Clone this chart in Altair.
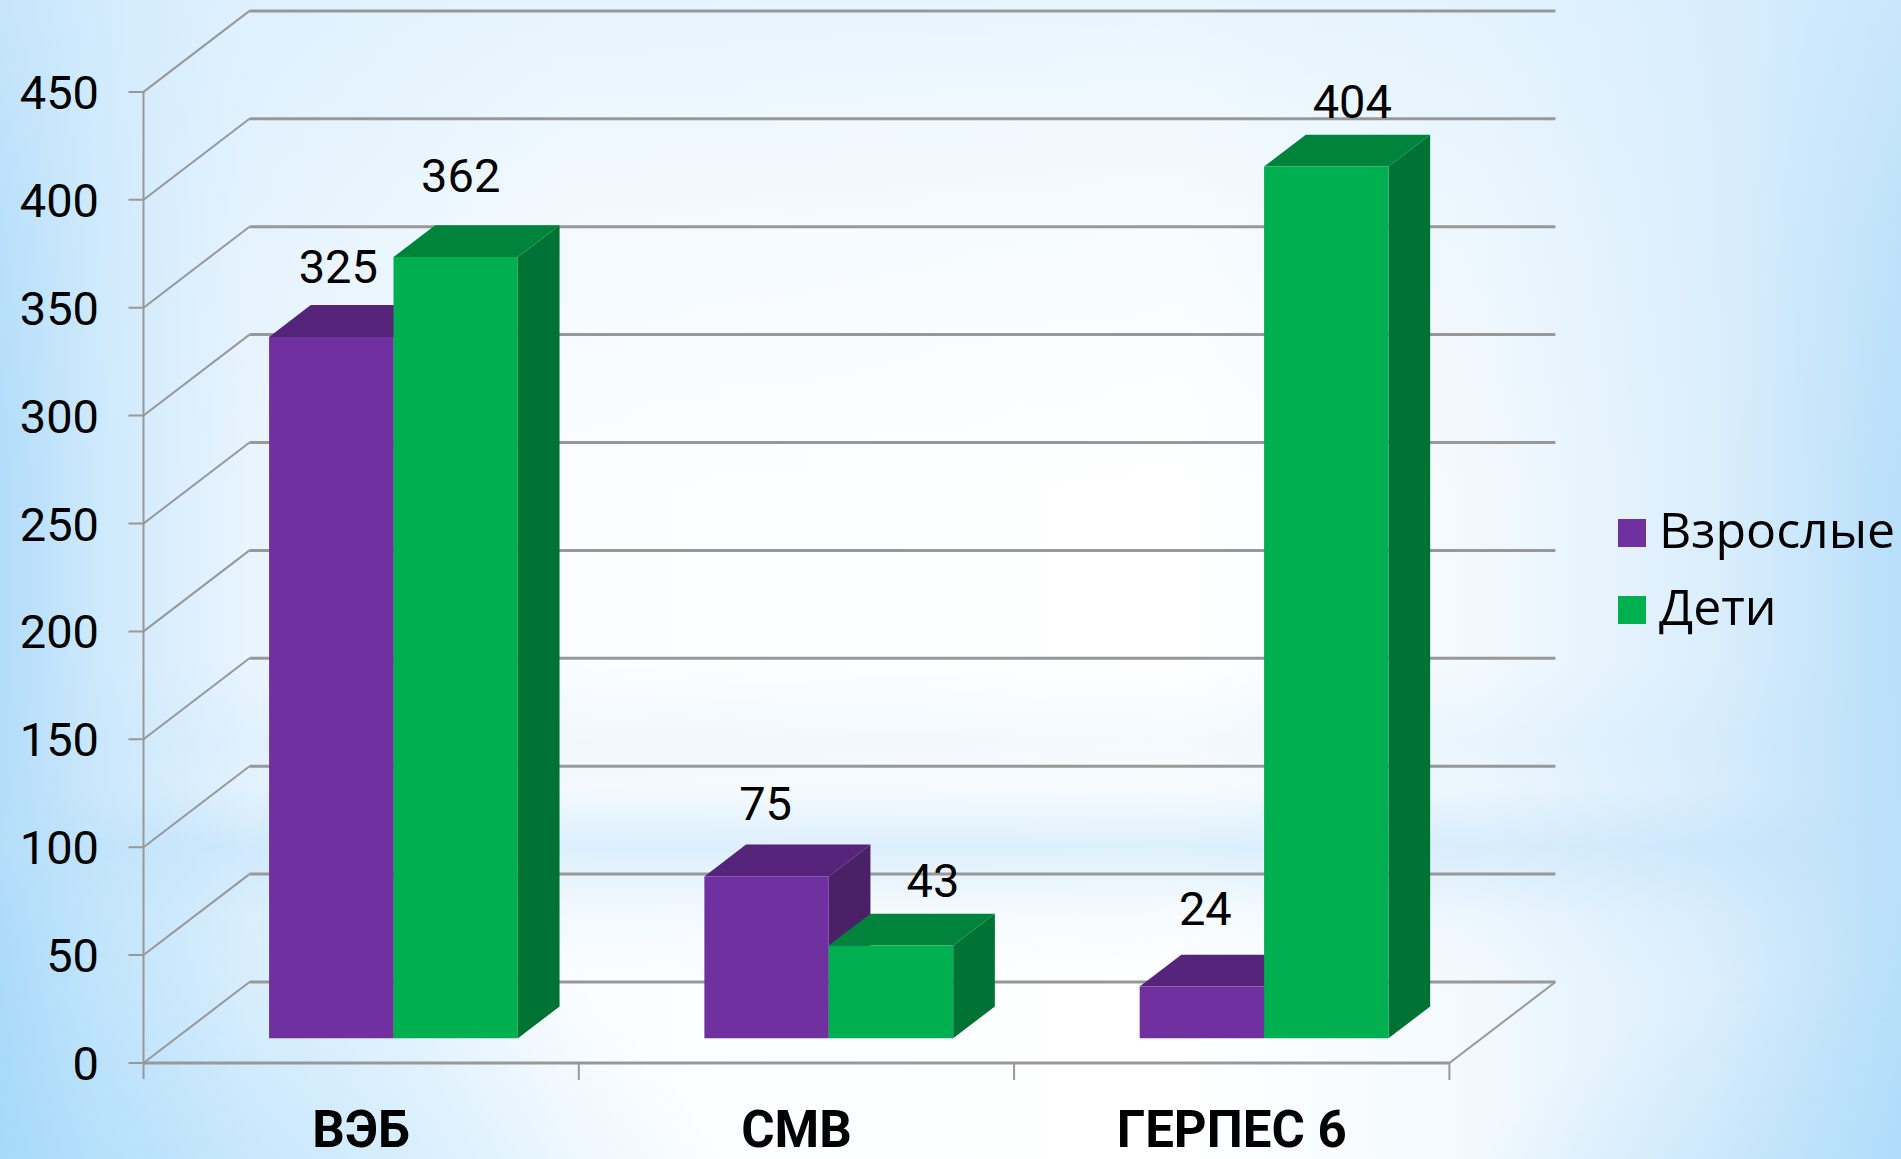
import altair as alt
import pandas as pd

# Values shown on the chart
categories = ["ВЭБ", "СМВ", "ГЕРПЕС 6"]
series_names = ["Взрослые", "Дети"]
adults = [325, 75, 24]
children = [362, 43, 404]
value_ticks = [0, 50, 100, 150, 200, 250, 300, 350, 400, 450]

# Faces of each bar: front, top, side
face_colors = {
    "Взрослые": ("#7030A0", "#55247A", "#4A2067"),
    "Дети": ("#00B050", "#00843C", "#007233"),
}
GRID = "#989898"
NUM_FONT = "Roboto"
LEGEND_FONT = "Open Sans"

WIDTH, HEIGHT = 1901, 1159
X0_PX, CAT_PX = 143.5, 435.3
Y0_PX, UNIT_PX = 1063.0, 2.158

x_scale = alt.Scale(domain=[-X0_PX / CAT_PX, (WIDTH - X0_PX) / CAT_PX], range=[0, WIDTH], nice=False, zero=False)
y_scale = alt.Scale(domain=[(Y0_PX - HEIGHT) / UNIT_PX, Y0_PX / UNIT_PX], range=[HEIGHT, 0], nice=False, zero=False)

# Oblique projection of the 3D box: full floor depth in axis units
FLOOR_DX = 106 / CAT_PX
FLOOR_DY = 81 / UNIT_PX
# Bars sit between these fractions of the floor depth
BAR_NEAR, BAR_FAR = 0.305, 0.698
BAR_WIDTH = 0.2858


def X(u, depth=0.0):
    return u + depth * FLOOR_DX


def Y(v, depth=0.0):
    return v + depth * FLOOR_DY


def qx(field):
    return alt.X(field, type="quantitative", scale=x_scale, axis=None)


def qy(field):
    return alt.Y(field, type="quantitative", scale=y_scale, axis=None, stack=None)


def full_rect(fill):
    return alt.Chart(alt.Data(values=[{}])).mark_rect(fill=fill).encode(
        x=alt.value(0), x2=alt.value(WIDTH), y=alt.value(0), y2=alt.value(HEIGHT)
    )


def linear(stops, horizontal=True):
    return alt.LinearGradient(
        gradient="linear",
        stops=[alt.GradientStop(color=c, offset=o) for o, c in stops],
        x1=0, y1=0, x2=1 if horizontal else 0, y2=0 if horizontal else 1,
    )


def corner_glow(cx, cy, radius, alpha):
    return full_rect(alt.RadialGradient(
        gradient="radial",
        stops=[alt.GradientStop(color=f"rgba(150,212,250,{alpha})", offset=0),
               alt.GradientStop(color="rgba(150,212,250,0)", offset=1)],
        x1=cx, y1=cy, x2=cx, y2=cy, r1=0, r2=radius,
    ))


background = [
    # side-to-side wash, deep blue at the edges and white in the middle
    full_rect(linear([
        (0, "#B2DCFA"), (0.05, "#CDE9FC"), (0.13, "#E8F4FE"), (0.3, "#FBFDFF"),
        (0.62, "#FFFFFF"), (0.78, "#F2F9FE"), (0.9, "#DBEEFC"), (1, "#B8DFFA"),
    ])),
    # pale sky across the top and the soft band low on the slide
    full_rect(linear([
        (0, "rgba(214,237,253,0.55)"), (0.2, "rgba(214,237,253,0.2)"), (0.42, "rgba(214,237,253,0)"),
        (0.57, "rgba(190,225,250,0)"), (0.64, "rgba(190,225,250,0.18)"), (0.68, "rgba(190,225,250,0.12)"),
        (0.73, "rgba(190,225,250,0.5)"), (0.79, "rgba(190,225,250,0.12)"), (0.85, "rgba(190,225,250,0)"),
        (1, "rgba(190,225,250,0)"),
    ], horizontal=False)),
    corner_glow(0.03, 1.0, 0.4, 0.85),
    corner_glow(1.0, 1.0, 0.3, 0.75),
]

# Wall lines at full weight, oblique edges and tick marks lighter
wall_rows, edge_rows = [], []


def add_path(rows, name, pts):
    for i, (px, py) in enumerate(pts):
        rows.append({"x": px, "y": py, "line": name, "i": i})


for v in value_ticks:
    add_path(wall_rows, f"wall{v}", [(X(0, 1), Y(v, 1)), (X(3, 1), Y(v, 1))])
    add_path(edge_rows, f"edge{v}", [(X(-15 / CAT_PX), Y(v)), (X(0), Y(v)), (X(0, 1), Y(v, 1))])
add_path(edge_rows, "floor_right", [(X(3, 1), Y(0, 1)), (X(3), Y(0))])
add_path(wall_rows, "floor_front", [(X(3), Y(0)), (X(0), Y(0))])
add_path(edge_rows, "axis", [(X(0), Y(450)), (X(0), Y(-16 / UNIT_PX))])
for c in (1, 2, 3):
    add_path(edge_rows, f"tick{c}", [(X(c), Y(0)), (X(c), Y(-17 / UNIT_PX))])

walls = alt.Chart(pd.DataFrame(wall_rows)).mark_line(color=GRID, strokeWidth=3).encode(
    x=qx("x"), y=qy("y"), detail="line:N", order="i:Q"
)
edges = alt.Chart(pd.DataFrame(edge_rows)).mark_line(color=GRID, strokeWidth=2).encode(
    x=qx("x"), y=qy("y"), detail="line:N", order="i:Q"
)

# Bars, adults first so that the children's bars overlap them
bar_layers = []
for s_idx, (name, values) in enumerate(zip(series_names, [adults, children])):
    front_c, top_c, side_c = face_colors[name]
    side_rows, top_rows, front_rows = [], [], []
    for c_idx, val in enumerate(values):
        left = c_idx + 0.5 - BAR_WIDTH + s_idx * BAR_WIDTH
        right = left + BAR_WIDTH
        side_rows += [
            {"k": c_idx, "x": X(right, BAR_NEAR), "top": Y(val, BAR_NEAR), "bot": Y(0, BAR_NEAR)},
            {"k": c_idx, "x": X(right, BAR_FAR), "top": Y(val, BAR_FAR), "bot": Y(0, BAR_FAR)},
        ]
        top_rows += [
            {"k": c_idx, "y": Y(val, BAR_NEAR), "l": X(left, BAR_NEAR), "r": X(right, BAR_NEAR)},
            {"k": c_idx, "y": Y(val, BAR_FAR), "l": X(left, BAR_FAR), "r": X(right, BAR_FAR)},
        ]
        front_rows.append({"series": name, "l": X(left, BAR_NEAR), "r": X(right, BAR_NEAR),
                           "top": Y(val, BAR_NEAR), "bot": Y(0, BAR_NEAR)})
    bar_layers.append(
        alt.Chart(pd.DataFrame(side_rows)).mark_area(color=side_c).encode(
            x=qx("x"), y=qy("top"), y2="bot:Q", detail="k:N")
    )
    bar_layers.append(
        alt.Chart(pd.DataFrame(top_rows)).mark_area(color=top_c, orient="horizontal").encode(
            y=qy("y"), x=alt.X("l", type="quantitative", scale=x_scale, axis=None, stack=None),
            x2="r:Q", detail="k:N")
    )
    bar_layers.append(
        alt.Chart(pd.DataFrame(front_rows)).mark_rect().encode(
            x=qx("l"), x2="r:Q", y=qy("top"), y2="bot:Q",
            color=alt.Color("series:N",
                            scale=alt.Scale(domain=series_names,
                                            range=[face_colors[n][0] for n in series_names]),
                            legend=alt.Legend(orient="none", legendX=1607, legendY=508, title=None,
                                              symbolType="square", symbolSize=784, symbolStrokeWidth=0,
                                              labelFont=LEGEND_FONT, labelFontSize=50, labelColor="#000000",
                                              labelOffset=2, rowPadding=27, labelLimit=400)))
    )

# Per-label nudges (dx, lift above the front top edge)
label_nudge = {
    (0, 0): (7, 53.7), (0, 1): (5, 65), (1, 0): (-1, 56.7),
    (1, 1): (42, 48.7), (2, 0): (3.5, 61.7), (2, 1): (26, 48),
}
label_layers = []
for s_idx, values in enumerate([adults, children]):
    for c_idx, val in enumerate(values):
        dx, lift = label_nudge[(c_idx, s_idx)]
        centre = c_idx + 0.5 - BAR_WIDTH + (s_idx + 0.5) * BAR_WIDTH
        df = pd.DataFrame([{"x": X(centre, BAR_NEAR), "y": Y(val, BAR_NEAR), "t": str(val)}])
        label_layers.append(
            alt.Chart(df).mark_text(font=NUM_FONT, fontSize=47, color="#000000", align="center",
                                    baseline="alphabetic", dx=dx, dy=-lift).encode(
                x=qx("x"), y=qy("y"), text="t:N")
        )

tick_df = pd.DataFrame({"x": [0.0] * len(value_ticks), "y": value_ticks, "t": [str(v) for v in value_ticks]})
tick_labels = alt.Chart(tick_df).mark_text(font=NUM_FONT, fontSize=47, color="#000000", align="right",
                                           baseline="alphabetic", dx=-44.5, dy=17).encode(
    x=qx("x"), y=qy("y"), text="t:N")

cat_df = pd.DataFrame({"x": [X(i + 0.5) for i in range(3)], "y": [0.0] * 3, "t": categories})
cat_labels = alt.Chart(cat_df).mark_text(font=NUM_FONT, fontSize=51, fontWeight="bold", color="#000000",
                                         align="center", baseline="alphabetic", dy=84).encode(
    x=qx("x"), y=qy("y"), text="t:N")

chart = alt.layer(*background, walls, edges, *bar_layers, *label_layers, tick_labels, cat_labels).properties(
    width=WIDTH, height=HEIGHT, padding=0, autosize=alt.AutoSizeParams(type="none"),
    background="#FFFFFF",
).configure_view(stroke=None)

chart.save("out.html", embed_options={"renderer": "svg", "actions": False})
